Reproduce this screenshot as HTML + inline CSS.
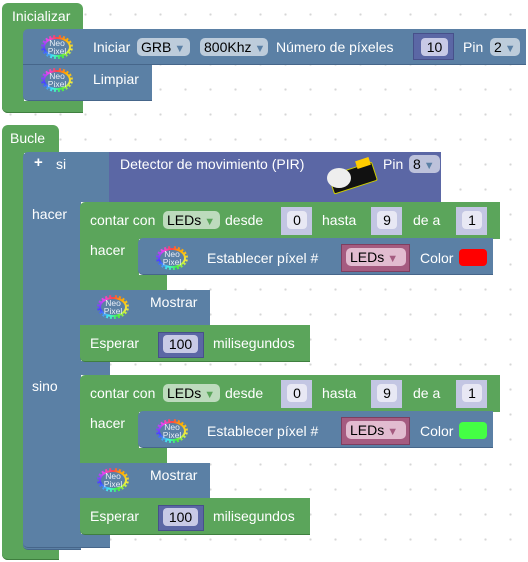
<!DOCTYPE html>
<html><head><meta charset="utf-8"><style>
body{margin:0;width:528px;height:562px;overflow:hidden;background:#fff;position:relative;font-family:"Liberation Sans",sans-serif;}
.grid{position:absolute;inset:0;background-image:radial-gradient(circle,#d6d6d6 1px,transparent 1.3px);background-size:25px 25px;background-position:-2px 2px;}
.b{position:absolute;box-sizing:border-box;}
.g{background:#5ba55b;border-bottom:1px solid #3f7f3f;}
.bl{background:#5b80a5;border-bottom:1px solid #46668a;}
.p{background:#5b67a5;}
.pk{background:#a55b80;}
.t{position:absolute;color:#fff;font-size:14px;white-space:nowrap;line-height:16px;}
.dd{position:absolute;background:rgba(255,255,255,.6);border-radius:5px;height:18px;font-size:14px;line-height:18px;color:#000;padding-left:4px;box-sizing:border-box;white-space:nowrap;}
.dd i{font-style:normal;color:#5b80a5;font-size:11px;margin-left:3px;}
.sock{position:absolute;background:#c3c6e3;box-sizing:border-box;}
.in{position:absolute;background:#e8e8f4;border-radius:4px;font-size:14px;color:#000;text-align:center;line-height:18px;height:18px;}
.np{position:absolute;width:32px;height:24px;border-radius:50%;background:conic-gradient(#f44,#fa0,#ee4,#4e4,#4ee,#44f,#e4e,#f44);}
.np::before{content:"";position:absolute;inset:0;border-radius:50%;border:2px dotted #5b80a5;z-index:1;}
.np::after{content:"";position:absolute;inset:4px;border-radius:50%;background:#5b80a5;}
.np span{position:absolute;z-index:2;left:0;right:0;top:4px;font-size:8.5px;line-height:8px;color:#e8eef6;text-align:center;}
</style></head><body>
<div class="grid"></div>

<div class="b g" style="left:2px;top:3px;width:81px;height:28px;border-radius:6px 6px 0 0;border:none"></div>
<div class="b g" style="left:2px;top:28px;width:22px;height:85px;border-radius:0 0 0 6px"></div>
<div class="b g" style="left:2px;top:101px;width:81px;height:12px;border-radius:0 0 0 6px"></div>
<div class="t" style="left:12px;top:8px">Inicializar</div>
<div class="b bl" style="left:23px;top:29px;width:503px;height:36px;border-radius:5px 0 0 0"></div>
<div class="b bl" style="left:23px;top:65px;width:129px;height:36px;border-radius:0 0 0 5px"></div>
<div class="np" style="left:41px;top:35px"><span>Neo<br>Pixel</span></div>
<div class="np" style="left:41px;top:68px"><span>Neo<br>Pixel</span></div>
<div class="t" style="left:93px;top:39px">Iniciar</div>
<div class="dd" style="left:137px;top:38px;width:53px">GRB<i>▼</i></div>
<div class="dd" style="left:200px;top:38px;width:68px">800Khz<i>▼</i></div>
<div class="t" style="left:276px;top:39px">Número de píxeles</div>
<div class="b p" style="left:413px;top:33px;width:41px;height:27px;border:1px solid #47508a"></div>
<div class="in" style="left:421px;top:38px;width:27px;background:#c8cae6">10</div>
<div class="t" style="left:463px;top:39px">Pin</div>
<div class="dd" style="left:490px;top:38px;width:30px">2<i>▼</i></div>
<div class="t" style="left:93px;top:71px">Limpiar</div>

<div class="b g" style="left:2px;top:125px;width:57px;height:28px;border-radius:6px 6px 0 0;border:none"></div>
<div class="b g" style="left:2px;top:150px;width:22px;height:410px;border-radius:0 0 0 6px"></div>
<div class="b g" style="left:2px;top:548px;width:57px;height:12px;border-radius:0 0 0 6px"></div>
<div class="t" style="left:10px;top:130px">Bucle</div>

<div class="b bl" style="left:23px;top:152px;width:87px;height:50px;border-radius:5px 0 0 0;border:none"></div>
<div class="b bl" style="left:23px;top:200px;width:58px;height:350px;border-radius:0 0 0 5px"></div>
<div class="b bl" style="left:23px;top:361px;width:87px;height:14px;border:none"></div>
<div class="b bl" style="left:23px;top:534px;width:87px;height:14px;border-radius:0 0 0 5px"></div>
<div class="t" style="left:34px;top:155px;font-weight:bold;font-size:15px">+</div>
<div class="t" style="left:56px;top:156px">si</div>
<div class="b p" style="left:109px;top:152px;width:332px;height:50px"></div>
<div class="t" style="left:120px;top:156px">Detector de movimiento (PIR)</div>
<div class="b" style="left:330px;top:168px;width:46px;height:20px;background:#111;transform:rotate(-18deg);border-radius:2px;border:1px solid #cc0"></div>
<div class="b" style="left:327px;top:168px;width:24px;height:20px;background:#eee;border-radius:50%"></div>
<div class="b" style="left:356px;top:159px;width:14px;height:8px;background:#fc0;transform:rotate(-18deg)"></div>
<div class="t" style="left:383px;top:156px">Pin</div>
<div class="dd" style="left:409px;top:155px;width:31px">8<i>▼</i></div>
<div class="t" style="left:32px;top:206px">hacer</div>
<div class="t" style="left:32px;top:378px">sino</div>

<div>
<div class="b g" style="left:80px;top:202px;width:420px;height:37px;border-radius:5px 0 0 0;border:none"></div>
<div class="b g" style="left:80px;top:236px;width:59px;height:54px"></div>
<div class="b g" style="left:80px;top:275px;width:87px;height:15px;border:none"></div>
<div class="t" style="left:90px;top:212px">contar con</div>
<div class="dd" style="left:163px;top:211px;width:57px">LEDs<i style="color:#5ba55b">▼</i></div>
<div class="t" style="left:225px;top:212px">desde</div>
<div class="sock" style="left:281px;top:207px;width:31px;height:28px"></div><div class="in" style="left:287px;top:211px;width:20px">0</div>
<div class="t" style="left:322px;top:212px">hasta</div>
<div class="sock" style="left:371px;top:207px;width:31px;height:28px"></div><div class="in" style="left:377px;top:211px;width:20px">9</div>
<div class="t" style="left:413px;top:212px">de a</div>
<div class="sock" style="left:456px;top:207px;width:31px;height:28px"></div><div class="in" style="left:462px;top:211px;width:20px">1</div>
<div class="t" style="left:90px;top:242px">hacer</div>
<div class="b bl" style="left:138px;top:238px;width:355px;height:37px;border-radius:5px 0 0 5px"></div>
<div class="np" style="left:156px;top:246px"><span>Neo<br>Pixel</span></div>
<div class="t" style="left:207px;top:250px">Establecer píxel #</div>
<div class="b pk" style="left:341px;top:244px;width:69px;height:28px;border:1px solid #7e3f60"></div>
<div class="dd" style="left:346px;top:248px;width:60px;background:#e2bcd0">LEDs<i style="color:#a55b80">▼</i></div>
<div class="t" style="left:420px;top:250px">Color</div>
<div class="b" style="left:459px;top:249px;width:28px;height:17px;background:#f00;border-radius:4px"></div>
<div class="b bl" style="left:80px;top:290px;width:130px;height:36px"></div>
<div class="np" style="left:97px;top:295px"><span>Neo<br>Pixel</span></div>
<div class="t" style="left:150px;top:294px">Mostrar</div>
<div class="b g" style="left:80px;top:325px;width:230px;height:37px;border-radius:0 0 0 5px"></div>
<div class="t" style="left:90px;top:335px">Esperar</div>
<div class="b p" style="left:158px;top:332px;width:46px;height:26px;border:1px solid #47508a"></div>
<div class="in" style="left:163px;top:335px;width:35px;background:#c8cae6">100</div>
<div class="t" style="left:213px;top:335px">milisegundos</div>
</div>
<div style="position:absolute;left:0;top:173px;width:528px;height:200px">
<div class="b g" style="left:80px;top:202px;width:420px;height:37px;border-radius:5px 0 0 0;border:none"></div>
<div class="b g" style="left:80px;top:236px;width:59px;height:54px"></div>
<div class="b g" style="left:80px;top:275px;width:87px;height:15px;border:none"></div>
<div class="t" style="left:90px;top:212px">contar con</div>
<div class="dd" style="left:163px;top:211px;width:57px">LEDs<i style="color:#5ba55b">▼</i></div>
<div class="t" style="left:225px;top:212px">desde</div>
<div class="sock" style="left:281px;top:207px;width:31px;height:28px"></div><div class="in" style="left:287px;top:211px;width:20px">0</div>
<div class="t" style="left:322px;top:212px">hasta</div>
<div class="sock" style="left:371px;top:207px;width:31px;height:28px"></div><div class="in" style="left:377px;top:211px;width:20px">9</div>
<div class="t" style="left:413px;top:212px">de a</div>
<div class="sock" style="left:456px;top:207px;width:31px;height:28px"></div><div class="in" style="left:462px;top:211px;width:20px">1</div>
<div class="t" style="left:90px;top:242px">hacer</div>
<div class="b bl" style="left:138px;top:238px;width:355px;height:37px;border-radius:5px 0 0 5px"></div>
<div class="np" style="left:156px;top:246px"><span>Neo<br>Pixel</span></div>
<div class="t" style="left:207px;top:250px">Establecer píxel #</div>
<div class="b pk" style="left:341px;top:244px;width:69px;height:28px;border:1px solid #7e3f60"></div>
<div class="dd" style="left:346px;top:248px;width:60px;background:#e2bcd0">LEDs<i style="color:#a55b80">▼</i></div>
<div class="t" style="left:420px;top:250px">Color</div>
<div class="b" style="left:459px;top:249px;width:28px;height:17px;background:#4f4;border-radius:4px"></div>
<div class="b bl" style="left:80px;top:290px;width:130px;height:36px"></div>
<div class="np" style="left:97px;top:295px"><span>Neo<br>Pixel</span></div>
<div class="t" style="left:150px;top:294px">Mostrar</div>
<div class="b g" style="left:80px;top:325px;width:230px;height:37px;border-radius:0 0 0 5px"></div>
<div class="t" style="left:90px;top:335px">Esperar</div>
<div class="b p" style="left:158px;top:332px;width:46px;height:26px;border:1px solid #47508a"></div>
<div class="in" style="left:163px;top:335px;width:35px;background:#c8cae6">100</div>
<div class="t" style="left:213px;top:335px">milisegundos</div>
</div>
</body></html>
